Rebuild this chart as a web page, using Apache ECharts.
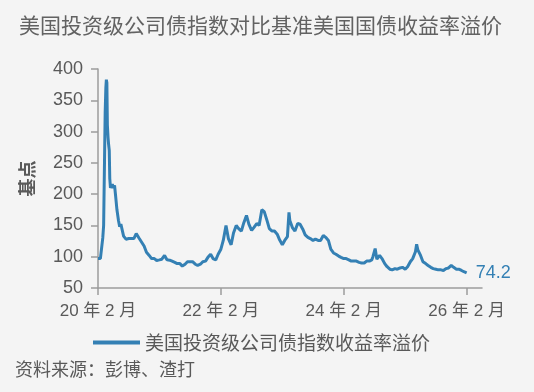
<!DOCTYPE html>
<html>
<head>
<meta charset="utf-8">
<script src="https://cdn.jsdelivr.net/npm/echarts@6/dist/echarts.min.js"></script>
<style>
html,body{margin:0;padding:0;background:#f4f4f4;}
#chart{width:534px;height:392px;}
</style>
</head>
<body>
<div id="chart"></div>
<script>
const titleText = '美国投资级公司债指数对比基准美国国债收益率溢价';
const seriesName = '美国投资级公司债指数收益率溢价';
const yAxisName = '基点';
const sourceText = '资料来源：彭博、渣打';
const xTickMonths = [0, 24, 48, 72];

const dates = [
'2020-02-01','2020-02-08','2020-02-15','2020-02-22','2020-02-29','2020-03-04','2020-03-09','2020-03-13','2020-03-17','2020-03-20','2020-03-23','2020-03-26','2020-03-30','2020-04-03','2020-04-07','2020-04-10','2020-04-14','2020-04-20','2020-04-25','2020-05-01','2020-05-08','2020-05-15','2020-05-22','2020-06-01','2020-06-08','2020-06-15',
'2020-07-01','2020-07-15','2020-08-01','2020-08-15','2020-09-01','2020-09-15','2020-10-01','2020-10-15','2020-11-01','2020-11-15','2020-12-01','2020-12-15',
'2021-01-01','2021-01-15','2021-02-01','2021-02-15','2021-03-01','2021-03-15','2021-04-01','2021-04-15','2021-05-01','2021-05-15','2021-06-01','2021-06-15',
'2021-07-01','2021-07-15','2021-08-01','2021-08-15','2021-09-01','2021-09-15','2021-10-01','2021-10-15','2021-11-01','2021-11-15','2021-12-01','2021-12-15',
'2022-01-01','2022-01-15','2022-02-01','2022-02-15','2022-03-01','2022-03-15','2022-04-01','2022-04-15','2022-05-01','2022-05-15','2022-06-01','2022-06-15',
'2022-07-01','2022-07-15','2022-08-01','2022-08-15','2022-09-01','2022-09-15','2022-10-01','2022-10-15','2022-11-01','2022-11-15','2022-12-01','2022-12-15',
'2023-01-01','2023-01-15','2023-02-01','2023-02-15','2023-03-01','2023-03-10','2023-03-15','2023-04-01','2023-04-15','2023-05-01','2023-05-15','2023-06-01','2023-06-15',
'2023-07-01','2023-07-15','2023-08-01','2023-08-15','2023-09-01','2023-09-15','2023-10-01','2023-10-15','2023-11-01','2023-11-15','2023-12-01','2023-12-15',
'2024-01-01','2024-01-15','2024-02-01','2024-02-15','2024-03-01','2024-03-15','2024-04-01','2024-04-15','2024-05-01','2024-05-15','2024-06-01','2024-06-15',
'2024-07-01','2024-07-15','2024-07-22','2024-08-05','2024-08-15','2024-09-01','2024-09-15','2024-10-01','2024-10-15','2024-11-01','2024-11-15','2024-12-01','2024-12-15',
'2025-01-01','2025-01-15','2025-02-01','2025-02-15','2025-03-01','2025-03-15','2025-04-01','2025-04-08','2025-04-15','2025-05-01','2025-05-15','2025-06-01','2025-06-15',
'2025-07-01','2025-07-15','2025-08-01','2025-08-15','2025-09-01','2025-09-15','2025-10-01','2025-10-15','2025-11-01','2025-11-15','2025-12-01','2025-12-15',
'2026-01-01','2026-01-15','2026-02-01'
];

const spread = [
97,98,97,100,130,150,250,330,370,383,378,310,290,280,270,225,210,208,216,210,214,195,175,158,148,152,
133,128,129,129,129,137,130,124,117,107,102,97,
97,94,95,96,102,95,94.5,93,91,89,89,85,
88,92,92,92,88,86,88,92,93,99,104,97,
95,104,112,126,150,129,119,138,150,145,141,154,
166,152,142,147,153,150,175,172,158,145,141,141,
136,127,119,126,132,171,158,146,141,153,152,144,135,
131,129,126,128,126,126,134,131,126,112,106,104,
101,99,97,97,95,93,93,93,91,90,90,93,
93,95,100,113,96,102,97,89,84,80,79,81,80,
82,83,80,84,92,97,108,120,111,102,92,89,86,
83,81,80,79,79,78,81,82,86,83,80,80,
78,76,74.2
];

function monthOffset(s) {
  const [y, m, d] = s.split('-').map(Number);
  return (y - 2020) * 12 + (m - 2) + (d - 1) / 30;
}
const seriesData = dates.map((d, i) => [monthOffset(d), spread[i]]);

const FONT = "'Liberation Sans', 'Noto Sans CJK SC', sans-serif";
const TEXT = '#595959';
const BLUE = '#3480b4';
const AXIS = '#9c9c9c';

const chart = echarts.init(document.getElementById('chart'));
chart.setOption({
  backgroundColor: '#f4f4f4',
  animation: false,
  title: {
    text: titleText,
    left: 14, top: 10,
    textStyle: { fontSize: 21, fontWeight: 'normal', color: '#626262', fontFamily: "'Noto Sans CJK SC', sans-serif" }
  },
  grid: { left: 98, right: 52, top: 69, bottom: 104 },
  legend: {
    data: [seriesName],
    left: 88, top: 328,
    icon: 'rect', itemWidth: 47, itemHeight: 4,
    textStyle: { fontSize: 19, color: TEXT, fontFamily: "'Noto Sans CJK SC', sans-serif" }
  },
  graphic: [{
    type: 'text', left: 15, top: 360,
    style: { text: sourceText, fontSize: 18, fill: TEXT, fontFamily: "'Noto Sans CJK SC', sans-serif" }
  }],
  xAxis: {
    type: 'value', min: 0, max: 75, interval: 24,
    axisLine: { show: true, lineStyle: { color: AXIS, width: 1.5 } },
    axisTick: { show: true, length: 7, customValues: xTickMonths, lineStyle: { color: AXIS, width: 1.5 } },
    splitLine: { show: false },
    axisLabel: {
      customValues: xTickMonths,
      margin: 15, fontSize: 17, color: TEXT, fontFamily: FONT,
      formatter: v => xTickMonths.includes(v) ? (20 + v / 12) + ' 年 2 月' : ''
    }
  },
  yAxis: {
    type: 'value', min: 50, max: 400, interval: 50,
    name: yAxisName, nameLocation: 'middle', nameRotate: 90, nameGap: 62,
    nameTextStyle: { fontSize: 18, fontWeight: 'bold', color: TEXT, fontFamily: "'Noto Sans CJK SC', sans-serif" },
    axisLine: { show: true, lineStyle: { color: AXIS, width: 1.5 } },
    axisTick: { show: true, length: 7, lineStyle: { color: AXIS, width: 1.5 } },
    splitLine: { show: false },
    axisLabel: { margin: 15, fontSize: 18, color: TEXT, fontFamily: FONT }
  },
  series: [{
    name: seriesName,
    type: 'line',
    data: seriesData,
    showSymbol: false,
    symbol: 'none',
    lineStyle: { color: BLUE, width: 3 },
    itemStyle: { color: BLUE },
    endLabel: {
      show: true, distance: 9,
      formatter: p => String(p.value[1]),
      fontSize: 18, color: BLUE, fontFamily: FONT
    }
  }]
});
</script>
</body>
</html>
